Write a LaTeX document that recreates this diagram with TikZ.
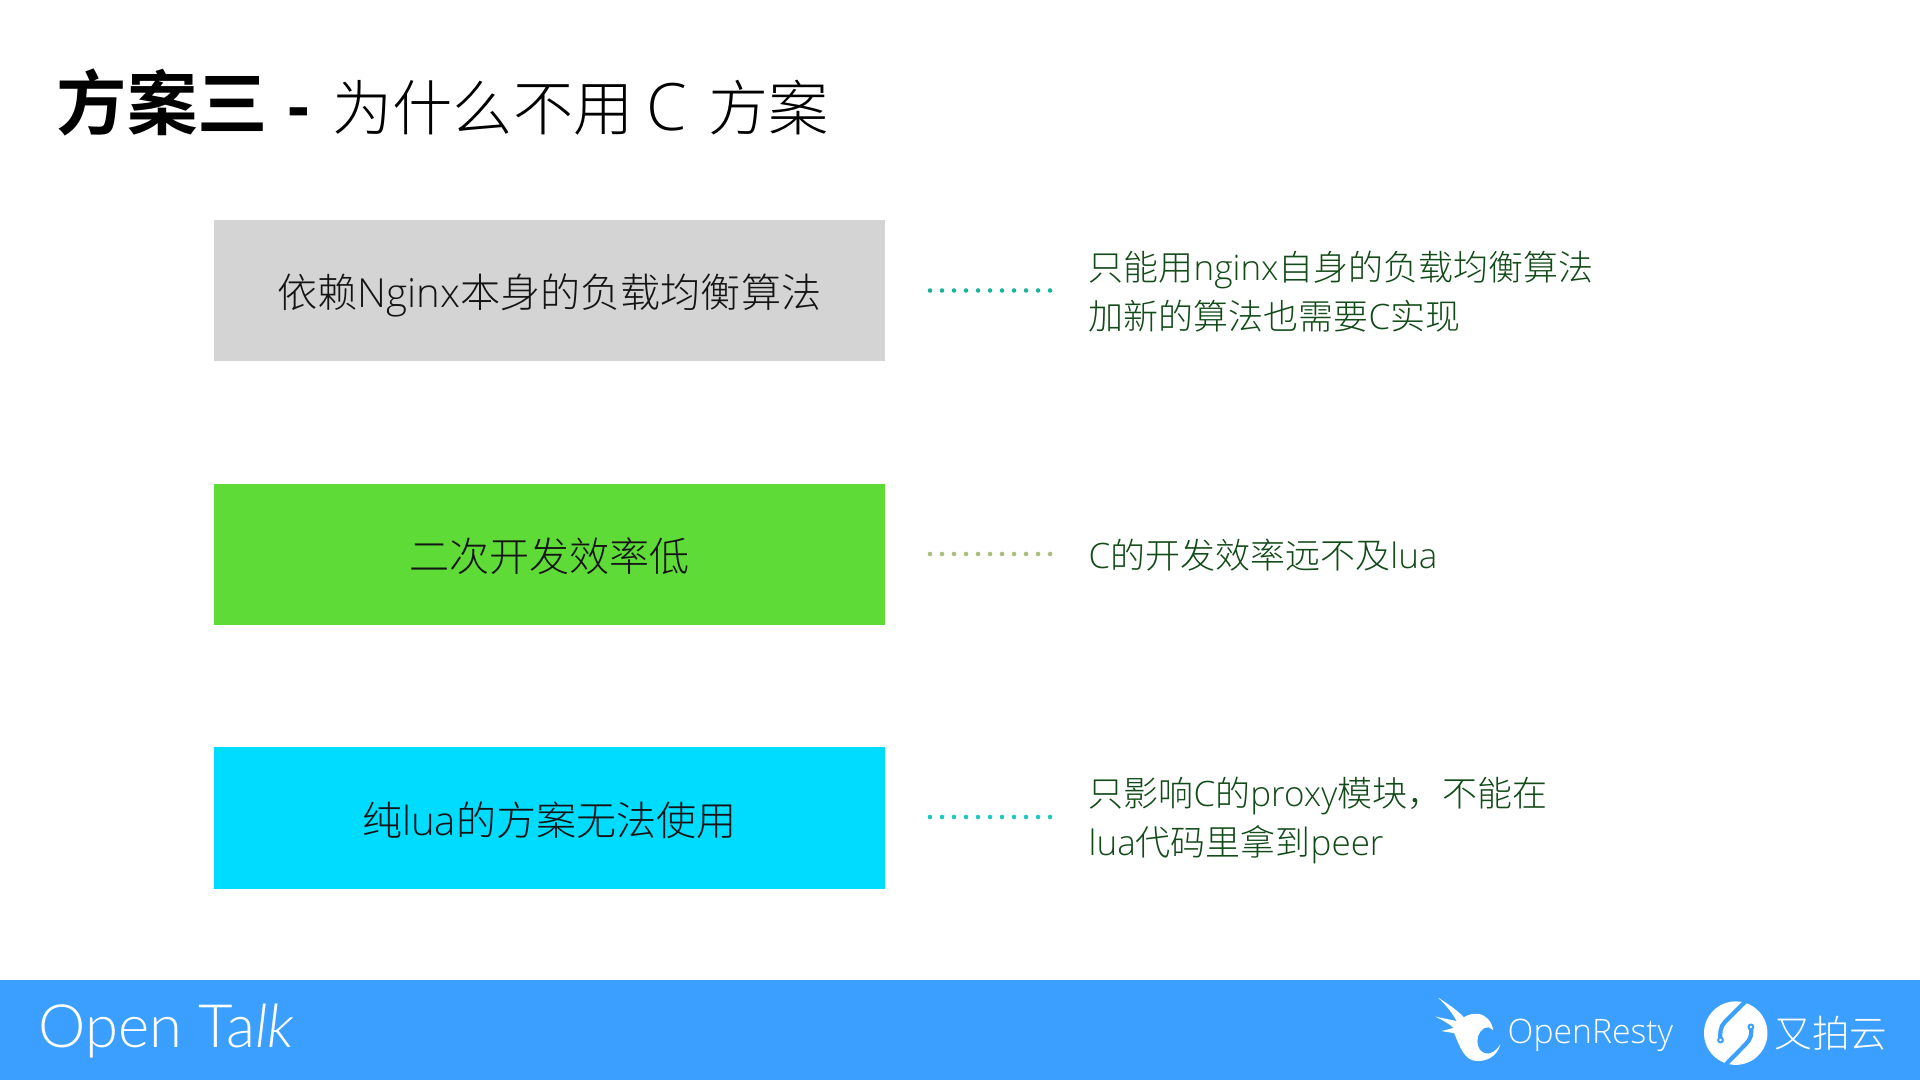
\documentclass[tikz,border=0pt]{standalone}
\usepackage{fontspec}
\newfontfamily\cjkl{Noto Sans CJK SC Light}
\newfontfamily\cjkb{Noto Sans CJK SC Bold}
\newfontfamily\latl{Liberation Sans}
\newfontfamily\opf{Open Sans Light}
\newfontfamily\tk[ItalicFont={Lato Light Italic}]{Lato Light}
\newcommand{\lat}[1]{{\opf #1}}
\definecolor{boxgray}{HTML}{D4D4D4}
\definecolor{boxgreen}{HTML}{5FDB37}
\definecolor{boxcyan}{HTML}{00DCFF}
\definecolor{footblue}{HTML}{3A9FFF}
\definecolor{notegreen}{HTML}{124A18}
\definecolor{dotteal}{HTML}{1CB39A}
\definecolor{dotolive}{HTML}{A9BE7A}
\definecolor{dotcyan}{HTML}{1CC8C0}
\tikzset{
  barbox/.style={fill=#1,draw=none,minimum width=6.71cm,minimum height=1.41cm,inner sep=0pt,
    text height=0.705cm+4.9pt,text depth=0.705cm-4.9pt,
    font=\cjkl\fontsize{11.4pt}{13pt}\selectfont,text=black!92},
  note/.style={anchor=west,align=left,inner sep=0pt,text=notegreen,
    font=\cjkl\fontsize{9.95pt}{13.9pt}\selectfont},
  dots/.style={draw=#1,line width=1.3pt,line cap=round,dash pattern=on 0pt off 0.12cm},
}
\begin{document}
\begin{tikzpicture}[x=0.01cm,y=-0.01cm]
\useasboundingbox (0,0) rectangle (1920,1080);
\fill[white] (0,0) rectangle (1920,1080);
% title
\node[anchor=base west,inner sep=0pt] (t1) at (56,130) {\cjkb\fontsize{20pt}{20pt}\selectfont 方案三};
\node[anchor=base west,inner sep=0pt] (t2) at (287,130) {\latl\bfseries\fontsize{19.4pt}{20pt}\selectfont -};
\node[anchor=base west,inner sep=0pt] (t3) at (332,131) {\cjkl\fontsize{17.1pt}{20pt}\selectfont 为什么不用 \lat{\fontsize{18.6pt}{20pt}\selectfont C} \hspace{2.2pt}方案};
% boxes
\node[barbox=boxgray] (b1) at (549.5,290.5) {依赖\lat{Nginx}本身的负载均衡算法};
\node[barbox=boxgreen] (b2) at (549.5,554.5) {二次开发效率低};
\node[barbox=boxcyan] (b3) at (549.5,818) {纯\lat{lua}的方案无法使用};
% notes
\node[note] (n1) at (1088,292) {只能用\lat{nginx}自身的负载均衡算法\\加新的算法也需要\lat{C}实现};
\node[note] (n2) at (1088,555) {\lat{C}的开发效率远不及\lat{lua}};
\node[note] (n3) at (1088,820.5) {只影响\lat{C}的\lat{proxy}模块，不能在\\[0.3pt]\lat{lua}代码里拿到\lat{peer}};
% dots
\coordinate (d1a) at (930,290.5); \coordinate (d1b) at (1054,290.5);
\coordinate (d2a) at (930,554); \coordinate (d2b) at (1054,554);
\coordinate (d3a) at (930,817); \coordinate (d3b) at (1054,817);
\draw[dots=dotteal] (d1a) -- (d1b);
\draw[dots=dotolive] (d2a) -- (d2b);
\draw[dots=dotcyan] (d3a) -- (d3b);
% footer
\fill[footblue] (0,980) rectangle (1920,1080);
\node[anchor=base west,inner sep=0pt,text=white] (ot) at (38,1048) {\tk\fontsize{17pt}{20pt}\selectfont Open Ta\itshape lk};
\node[anchor=base west,inner sep=0pt,text=white] (or) at (1507,1044) {\opf\fontsize{9.6pt}{12pt}\selectfont OpenResty};
\node[anchor=center,inner sep=0pt,text=white] (up) at (1831,1033) {\cjkl\fontsize{10.7pt}{12pt}\selectfont 又拍云};
% bird logo
\begin{scope}[shift={(1380,970)},x=0.003444cm,y=-0.003444cm]
\fill[white] (168,80) .. controls (200,100) and (225,118) .. (243,137)
 .. controls (262,125) and (290,122) .. (307,137)
 .. controls (318,145) and (326,158) .. (328,175)
 .. controls (318,165) and (310,164) .. (303,168)
 .. controls (285,178) and (278,200) .. (285,222)
 .. controls (292,245) and (325,255) .. (349,215)
 .. controls (340,250) and (310,265) .. (280,264)
 .. controls (245,262) and (232,225) .. (215,183)
 -- (178,177) -- (213,168) .. controls (200,155) and (180,145) .. (160,135)
 -- (222,148) .. controls (210,125) and (190,100) .. (168,80) -- cycle;
% upyun logo
\fill[white] (1031,183) circle (92);
\draw[footblue,line width=0.42mm] (1062,88) -- (1000,150) .. controls (985,165) and (985,185) .. (987,203);
\draw[footblue,line width=0.42mm] (1000,276) -- (1060,215) .. controls (1075,200) and (1078,185) .. (1075,167);
\fill[footblue] (987,203) circle (10); \fill[white] (987,203) circle (4);
\fill[footblue] (1075,165) circle (10); \fill[white] (1075,165) circle (4);
\end{scope}
\end{tikzpicture}
\end{document}
